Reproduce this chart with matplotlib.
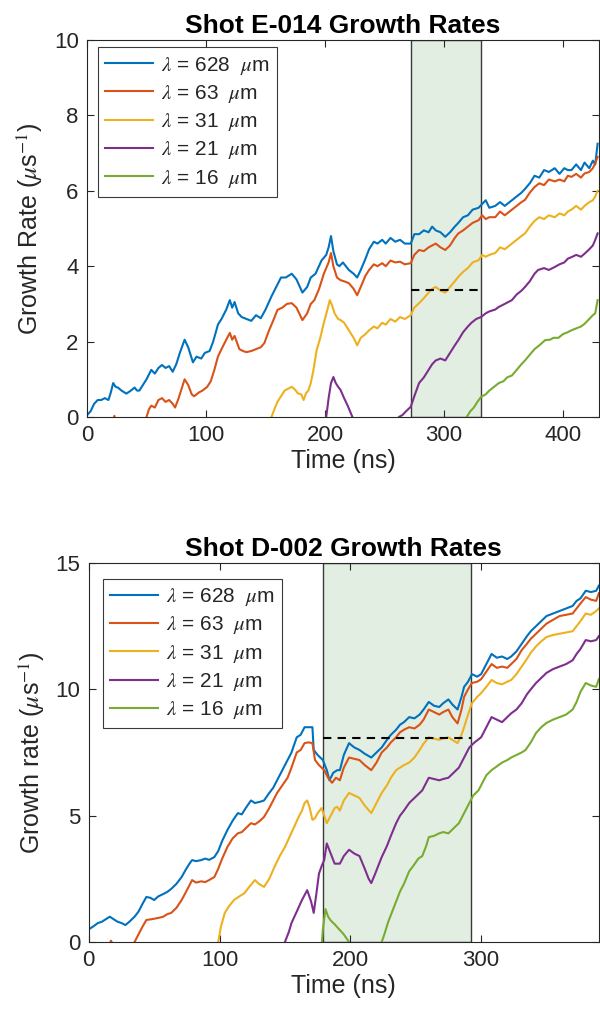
import numpy as np
import matplotlib
matplotlib.use('Agg')
import matplotlib.pyplot as plt

plt.rcParams['font.family'] = ['Liberation Sans', 'DejaVu Sans']
plt.rcParams['mathtext.fontset'] = 'stix'

# ---- data: (time ns, growth rate 1/us) ----
labels = ['$\\lambda$ = 628 $\\ \\mu$m', '$\\lambda$ = 63 $\\ \\mu$m', '$\\lambda$ = 31 $\\ \\mu$m',
          '$\\lambda$ = 21 $\\ \\mu$m', '$\\lambda$ = 16 $\\ \\mu$m']
colors = ['#0072BD', '#D95319', '#EDB120', '#7E2F8E', '#77AC30']

# Shot E-014
e014_628 = [(0, 0.05), (3, 0.15), (6, 0.35), (9, 0.45), (12, 0.45), (15, 0.5), (18, 0.45), (20, 0.65),
            (22, 0.9), (24, 0.8), (26, 0.78), (29, 0.7), (33, 0.62), (36, 0.68), (40, 0.78), (42, 0.7),
            (44, 0.7), (47, 0.85), (50, 1.0), (54, 1.25), (57, 1.15), (60, 1.3), (63, 1.38), (66, 1.3),
            (69, 1.35), (72, 1.2), (75, 1.4), (78, 1.7), (82, 2.05), (85, 1.85), (89, 1.45), (92, 1.6),
            (96, 1.55), (99, 1.7), (103, 1.75), (106, 2.0), (110, 2.45), (113, 2.6), (117, 2.85), (120, 3.1),
            (122, 2.9), (124, 3.05), (127, 2.75), (130, 2.65), (134, 2.6), (138, 2.55), (142, 2.7),
            (146, 2.62), (150, 2.85), (155, 3.2), (159, 3.45), (163, 3.7), (167, 3.7), (172, 3.8),
            (176, 3.65), (181, 3.3), (185, 3.45), (188, 3.7), (192, 3.8), (197, 4.15), (201, 4.3),
            (203, 4.5), (205, 4.8), (207, 4.4), (210, 4.05), (212, 4.0), (215, 4.1), (220, 3.9), (224, 3.8),
            (227, 3.7), (230, 3.9), (234, 4.2), (237, 4.45), (241, 4.65), (244, 4.6), (248, 4.7),
            (251, 4.6), (255, 4.75), (259, 4.65), (263, 4.7), (267, 4.6), (272, 4.6), (275, 4.85),
            (279, 4.85), (283, 4.95), (287, 4.9), (290, 5.05), (293, 4.95), (297, 4.9), (301, 4.78),
            (305, 4.9), (309, 5.05), (312, 5.15), (316, 5.3), (320, 5.35), (324, 5.5), (329, 5.55),
            (332, 5.65), (335, 5.75), (338, 5.55), (343, 5.6), (347, 5.7), (351, 5.6), (357, 5.75),
            (361, 5.85), (365, 5.95), (368, 6.05), (372, 6.2), (376, 6.4), (380, 6.35), (384, 6.55),
            (388, 6.5), (393, 6.6), (397, 6.45), (401, 6.6), (404, 6.55), (407, 6.55), (411, 6.7),
            (415, 6.55), (418, 6.75), (422, 6.6), (425, 6.8), (427, 6.7), (429, 7.25)]
e014_63 = [(20, -0.3), (23, 0.03), (26, -0.4), (45, -0.4), (50, 0.0), (52, 0.2), (54, 0.3), (57, 0.25),
           (60, 0.45), (63, 0.5), (66, 0.4), (69, 0.45), (72, 0.35), (74, 0.25), (77, 0.5), (80, 0.8),
           (82, 1.0), (85, 0.85), (88, 0.6), (90, 0.55), (94, 0.65), (97, 0.7), (101, 0.8), (104, 0.95),
           (107, 1.25), (110, 1.6), (113, 1.8), (117, 2.05), (120, 2.23), (122, 2.05), (124, 2.15),
           (128, 1.8), (131, 1.75), (134, 1.72), (138, 1.75), (142, 1.8), (146, 1.85), (149, 1.96),
           (153, 2.3), (157, 2.6), (160, 2.84), (164, 2.9), (168, 3.0), (172, 3.02), (176, 2.9),
           (181, 2.57), (185, 2.75), (188, 3.0), (191, 3.1), (195, 3.4), (199, 3.8), (203, 4.1),
           (205, 4.35), (207, 4.0), (210, 3.7), (213, 3.63), (216, 3.6), (220, 3.55), (224, 3.4),
           (227, 3.23), (230, 3.45), (234, 3.75), (237, 3.9), (241, 4.05), (244, 4.0), (248, 4.08),
           (251, 4.0), (255, 4.15), (259, 4.1), (263, 4.12), (267, 4.05), (272, 4.08), (275, 4.3),
           (279, 4.43), (283, 4.4), (287, 4.5), (290, 4.55), (293, 4.6), (297, 4.5), (301, 4.43),
           (305, 4.55), (309, 4.75), (312, 4.87), (316, 4.95), (320, 5.05), (324, 5.15), (329, 5.22),
           (332, 5.35), (335, 5.25), (338, 5.3), (343, 5.3), (347, 5.45), (351, 5.35), (357, 5.5),
           (361, 5.6), (365, 5.7), (368, 5.76), (372, 5.95), (376, 6.1), (380, 6.2), (384, 6.15),
           (388, 6.3), (393, 6.25), (397, 6.3), (401, 6.25), (404, 6.4), (407, 6.37), (411, 6.45),
           (415, 6.35), (418, 6.46), (422, 6.5), (425, 6.6), (427, 6.73), (429, 6.9)]
e014_31 = [(155, 0.0), (158, 0.25), (160, 0.4), (163, 0.55), (166, 0.7), (169, 0.75), (172, 0.8),
           (175, 0.72), (177, 0.63), (180, 0.6), (182, 0.45), (184, 0.63), (186, 0.7), (188, 0.9),
           (190, 1.2), (193, 1.78), (196, 2.1), (199, 2.5), (202, 2.85), (204, 3.1), (206, 2.95),
           (208, 2.75), (211, 2.6), (213, 2.57), (216, 2.5), (220, 2.3), (224, 2.1), (227, 1.9),
           (230, 2.1), (234, 2.2), (237, 2.3), (241, 2.4), (244, 2.35), (248, 2.5), (251, 2.45),
           (255, 2.6), (259, 2.53), (263, 2.65), (267, 2.6), (272, 2.7), (275, 2.9), (279, 3.02),
           (283, 3.15), (287, 3.3), (290, 3.4), (293, 3.45), (297, 3.35), (301, 3.3), (305, 3.45),
           (309, 3.6), (312, 3.72), (316, 3.85), (320, 3.95), (324, 4.1), (329, 4.16), (332, 4.3),
           (335, 4.25), (338, 4.3), (343, 4.35), (347, 4.5), (351, 4.45), (357, 4.6), (361, 4.7),
           (365, 4.8), (368, 4.87), (372, 5.05), (376, 5.2), (380, 5.3), (384, 5.25), (388, 5.35),
           (393, 5.3), (397, 5.4), (401, 5.35), (404, 5.45), (407, 5.5), (411, 5.6), (415, 5.5),
           (418, 5.6), (422, 5.7), (425, 5.75), (427, 5.85), (429, 6.0)]
e014_21 = [(199, -0.5), (201, 0.0), (203, 0.5), (205, 0.9), (207, 1.06), (209, 0.9), (211, 0.8),
           (213, 0.72), (216, 0.5), (219, 0.3), (223, 0.0), (226, -0.5), (245, -0.8), (258, -0.3),
           (262, 0.0), (265, 0.05), (268, 0.15), (272, 0.27), (275, 0.55), (279, 0.9), (283, 1.05),
           (287, 1.25), (290, 1.4), (293, 1.5), (297, 1.55), (301, 1.5), (305, 1.7), (309, 1.9),
           (312, 2.04), (316, 2.25), (320, 2.4), (323, 2.5), (327, 2.6), (331, 2.65), (335, 2.75),
           (338, 2.8), (343, 2.85), (346, 2.92), (351, 3.0), (357, 3.1), (361, 3.25), (365, 3.35),
           (368, 3.45), (372, 3.6), (376, 3.8), (379, 3.9), (384, 3.95), (388, 3.9), (393, 3.98),
           (397, 4.05), (401, 4.1), (404, 4.2), (407, 4.24), (411, 4.3), (415, 4.25), (418, 4.33),
           (422, 4.45), (425, 4.55), (427, 4.7), (429, 4.87)]
e014_16 = [(316, -0.3), (319, 0.0), (322, 0.15), (325, 0.25), (328, 0.4), (331, 0.53), (335, 0.6),
           (338, 0.7), (342, 0.8), (346, 0.9), (350, 0.95), (353, 1.05), (357, 1.1), (361, 1.25),
           (365, 1.4), (368, 1.5), (372, 1.65), (376, 1.8), (380, 1.9), (385, 2.04), (389, 2.05),
           (392, 2.1), (396, 2.1), (400, 2.2), (404, 2.25), (407, 2.3), (411, 2.35), (415, 2.4),
           (418, 2.47), (422, 2.6), (425, 2.7), (427, 2.75), (429, 3.1)]

# Shot D-002
d002_628 = [(0, 0.5), (3, 0.6), (7, 0.75), (10, 0.8), (13, 0.9), (16, 1.0), (19, 0.9), (22, 0.8),
            (25, 0.75), (28, 0.67), (31, 0.8), (35, 1.0), (38, 1.2), (41, 1.5), (44, 1.78), (47, 1.75),
            (50, 1.66), (53, 1.8), (57, 1.9), (60, 1.98), (63, 2.1), (67, 2.3), (71, 2.57), (74, 2.85),
            (77, 3.1), (79, 3.24), (82, 3.2), (86, 3.24), (89, 3.3), (92, 3.25), (96, 3.36), (99, 3.6),
            (102, 4.0), (106, 4.43), (110, 4.8), (114, 5.1), (117, 5.05), (120, 5.3), (124, 5.6),
            (127, 5.5), (131, 5.55), (134, 5.6), (138, 5.9), (141, 6.1), (144, 6.4), (148, 6.8),
            (152, 7.2), (155, 7.5), (159, 8.1), (162, 8.2), (165, 8.5), (168, 8.5), (171, 8.5),
            (172, 7.6), (175, 7.4), (179, 7.2), (182, 6.8), (184, 6.4), (187, 6.7), (190, 6.8),
            (192, 6.8), (195, 7.4), (199, 7.87), (203, 7.7), (207, 7.6), (211, 7.45), (216, 7.3),
            (220, 7.5), (224, 7.7), (228, 8.0), (231, 8.2), (235, 8.4), (238, 8.6), (241, 8.7),
            (245, 8.9), (249, 8.85), (253, 9.0), (256, 9.2), (260, 9.5), (264, 9.35), (268, 9.3),
            (271, 9.45), (275, 9.6), (278, 9.4), (282, 9.2), (285, 9.7), (287, 10.1), (290, 10.3),
            (293, 10.6), (297, 10.5), (300, 10.6), (304, 11.0), (308, 11.4), (312, 11.25), (316, 11.3),
            (320, 11.2), (323, 11.3), (327, 11.5), (331, 11.8), (335, 12.1), (338, 12.3), (342, 12.5),
            (346, 12.7), (350, 12.9), (355, 13.0), (360, 13.1), (365, 13.2), (370, 13.3), (373, 13.5),
            (376, 13.6), (380, 13.9), (384, 13.85), (388, 13.9), (390, 14.1)]
d002_63 = [(14, -0.3), (17, 0.05), (20, -0.3), (30, -0.4), (35, 0.0), (38, 0.3), (41, 0.6), (44, 0.87),
           (48, 0.9), (53, 0.95), (57, 1.0), (60, 1.1), (63, 1.15), (67, 1.35), (71, 1.66), (74, 1.95),
           (77, 2.25), (79, 2.45), (82, 2.35), (86, 2.4), (89, 2.37), (92, 2.45), (96, 2.57), (99, 2.9),
           (102, 3.3), (106, 3.76), (110, 4.1), (114, 4.3), (117, 4.35), (120, 4.5), (124, 4.7),
           (127, 4.65), (131, 4.8), (134, 4.95), (138, 5.3), (141, 5.6), (144, 5.9), (148, 6.2),
           (152, 6.5), (155, 6.9), (159, 7.5), (162, 7.6), (165, 7.87), (168, 7.9), (171, 7.87),
           (173, 7.2), (176, 7.0), (180, 6.8), (183, 6.5), (186, 6.3), (189, 6.5), (192, 6.4),
           (195, 6.9), (199, 7.3), (203, 7.25), (207, 7.2), (211, 7.0), (216, 6.8), (220, 7.1),
           (224, 7.5), (228, 7.7), (231, 7.9), (235, 8.1), (238, 8.3), (241, 8.4), (245, 8.5),
           (249, 8.45), (253, 8.6), (256, 8.8), (260, 9.2), (264, 9.1), (268, 9.0), (271, 9.1),
           (275, 9.2), (278, 8.9), (282, 8.65), (285, 9.2), (287, 9.7), (290, 10.0), (293, 10.25),
           (297, 10.3), (300, 10.4), (304, 10.7), (308, 11.0), (312, 10.85), (316, 10.9), (320, 10.85),
           (323, 11.0), (327, 11.2), (331, 11.55), (335, 11.8), (338, 12.0), (342, 12.2), (346, 12.4),
           (350, 12.6), (355, 12.75), (360, 12.9), (365, 12.95), (370, 13.0), (373, 13.2), (376, 13.4),
           (380, 13.65), (384, 13.55), (388, 13.5), (390, 13.8)]
d002_31 = [(96, -0.5), (99, 0.0), (101, 0.6), (104, 1.15), (107, 1.4), (111, 1.66), (115, 1.8),
           (119, 1.93), (123, 2.2), (127, 2.45), (130, 2.3), (134, 2.18), (138, 2.5), (142, 2.97),
           (146, 3.4), (150, 3.76), (153, 4.1), (157, 4.55), (160, 4.9), (163, 5.2), (165, 5.5),
           (167, 5.6), (169, 5.3), (171, 4.83), (173, 4.9), (175, 5.1), (178, 5.3), (180, 5.0),
           (182, 4.7), (185, 5.0), (188, 5.3), (190, 5.35), (192, 5.2), (195, 5.6), (199, 5.9),
           (203, 5.8), (207, 5.7), (211, 5.4), (216, 5.1), (220, 5.5), (224, 5.9), (228, 6.2),
           (231, 6.5), (235, 6.8), (238, 6.9), (241, 7.0), (245, 7.1), (249, 7.3), (253, 7.6),
           (256, 7.85), (260, 8.1), (264, 8.05), (268, 8.0), (271, 8.05), (275, 8.1), (278, 8.0),
           (282, 7.87), (285, 8.2), (287, 8.5), (290, 9.0), (293, 9.45), (297, 9.7), (300, 9.85),
           (304, 10.1), (308, 10.37), (312, 10.25), (316, 10.2), (320, 10.3), (323, 10.37), (327, 10.6),
           (331, 10.9), (335, 11.2), (338, 11.45), (342, 11.7), (346, 11.9), (350, 12.07), (355, 12.15),
           (360, 12.2), (365, 12.25), (370, 12.3), (373, 12.5), (376, 12.7), (380, 13.0), (384, 12.95),
           (388, 13.1), (390, 13.2)]
d002_21 = [(147, -0.5), (150, 0.0), (153, 0.4), (155, 0.75), (159, 1.2), (163, 1.66), (167, 2.05),
           (170, 1.6), (172, 1.15), (174, 1.9), (176, 2.7), (178, 3.0), (180, 3.24), (182, 3.9),
           (185, 3.5), (188, 3.1), (192, 3.1), (195, 3.4), (199, 3.65), (203, 3.5), (207, 3.4),
           (211, 2.9), (214, 2.5), (216, 2.33), (219, 2.7), (222, 3.1), (224, 3.36), (228, 3.8),
           (231, 4.2), (235, 4.7), (238, 5.0), (241, 5.2), (245, 5.5), (249, 5.7), (252, 5.85),
           (255, 6.0), (258, 6.3), (260, 6.5), (264, 6.45), (268, 6.4), (271, 6.45), (275, 6.5),
           (279, 6.7), (283, 6.9), (287, 7.3), (291, 7.7), (295, 7.9), (300, 8.1), (304, 8.5),
           (308, 8.9), (312, 8.8), (316, 8.7), (320, 8.9), (323, 9.05), (327, 9.2), (331, 9.45),
           (335, 9.8), (338, 10.0), (342, 10.25), (346, 10.45), (350, 10.65), (355, 10.8), (360, 10.9),
           (365, 11.0), (370, 11.15), (373, 11.4), (376, 11.6), (380, 11.95), (384, 11.9), (388, 11.95),
           (390, 12.1)]
d002_16 = [(177, -0.8), (179, 0.5), (181, 1.3), (183, 1.0), (185, 0.85), (188, 0.7), (192, 0.47),
           (195, 0.3), (199, 0.0), (202, -0.4), (220, -0.4), (224, 0.0), (226, 0.3), (229, 0.8),
           (232, 1.2), (235, 1.6), (238, 2.0), (241, 2.3), (245, 2.8), (248, 3.0), (252, 3.3),
           (255, 3.4), (258, 3.8), (260, 4.15), (264, 4.2), (268, 4.3), (271, 4.35), (275, 4.3),
           (279, 4.5), (283, 4.7), (287, 5.1), (291, 5.5), (294, 5.8), (298, 6.0), (301, 6.3),
           (304, 6.6), (308, 6.8), (312, 6.95), (316, 7.1), (320, 7.2), (323, 7.3), (327, 7.4),
           (331, 7.5), (334, 7.6), (338, 7.9), (342, 8.27), (346, 8.5), (350, 8.67), (355, 8.8),
           (360, 8.9), (365, 9.0), (370, 9.2), (373, 9.5), (376, 9.9), (380, 10.25), (384, 10.15),
           (388, 10.1), (390, 10.4)]

# shaded window and dashed threshold for each shot
e014_window = (272, 331)
e014_threshold = 3.37
d002_window = (179, 292)
d002_threshold = 8.07

txt = '#262626'


def draw_panel(ax, series, window, threshold, title, ylabel, xlim, ylim, yticks, xticks, leg_anchor):
    ax.axvspan(window[0], window[1], facecolor='#e3eee3', edgecolor='#3a3a3a', linewidth=1.0, zorder=1)
    for s, c, lab in zip(series, colors, labels):
        t = [p[0] for p in s]
        v = [p[1] for p in s]
        ax.plot(t, v, color=c, linewidth=1.5, label=lab, zorder=3)
    ax.plot([window[0], window[1]], [threshold, threshold], color='black', linestyle=(0, (4, 3)),
            linewidth=1.5, zorder=4)
    ax.set_xlim(xlim)
    ax.set_ylim(ylim)
    ax.set_xticks(xticks)
    ax.set_yticks(yticks)
    ax.tick_params(direction='in', top=True, right=True, length=5, width=0.8, colors=txt,
                   labelsize=16, pad=6)
    for sp in ax.spines.values():
        sp.set_color(txt)
        sp.set_linewidth(0.8)
        sp.set_zorder(5)
    ax.set_title(title, fontsize=19, fontweight='bold', color='black', pad=5)
    ax.set_xlabel('Time (ns)', fontsize=18, color=txt, labelpad=2)
    ax.set_ylabel(ylabel, fontsize=18, color=txt, labelpad=6)
    leg = ax.legend(loc='upper left', fontsize=15, handlelength=2.3, handletextpad=0.4,
                    labelspacing=0.3, borderpad=0.35, fancybox=False, framealpha=1,
                    edgecolor='#3a3a3a', bbox_to_anchor=leg_anchor, borderaxespad=0.0)
    leg.get_frame().set_linewidth(0.8)
    for t in leg.get_texts():
        t.set_color(txt)


fig = plt.figure(figsize=(6.0, 10.19), dpi=100)
ax1 = fig.add_axes([0.145, 0.5908, 0.853, 0.3699])
ax2 = fig.add_axes([0.148, 0.0756, 0.850, 0.3719])

draw_panel(ax1, [e014_628, e014_63, e014_31, e014_21, e014_16], e014_window, e014_threshold,
           'Shot E-014 Growth Rates', 'Growth Rate ($\\mu$s$^{-1}$)', (0, 430), (0, 10),
           [0, 2, 4, 6, 8, 10], [0, 100, 200, 300, 400], (0.021, 0.981))
draw_panel(ax2, [d002_628, d002_63, d002_31, d002_21, d002_16], d002_window, d002_threshold,
           'Shot D-002 Growth Rates', 'Growth rate ($\\mu$s$^{-1}$)', (0, 390), (0, 15),
           [0, 5, 10, 15], [0, 100, 200, 300], (0.027, 0.958))

fig.savefig('out.png', dpi=100)
